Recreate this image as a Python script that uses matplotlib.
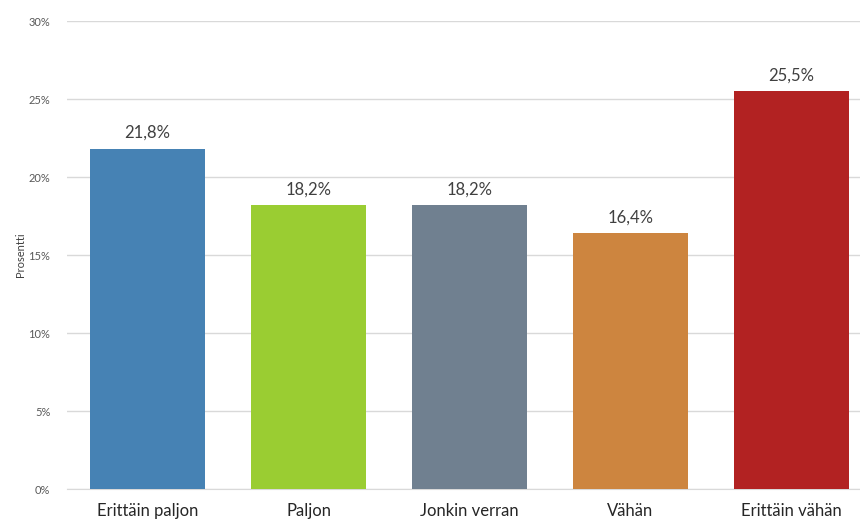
import matplotlib
matplotlib.use("Agg")
import matplotlib.pyplot as plt
from matplotlib.ticker import FuncFormatter

categories = ["Erittäin paljon", "Paljon", "Jonkin verran", "Vähän", "Erittäin vähän"]
values = [21.8, 18.2, 18.2, 16.4, 25.5]
colors = ["#4682B4", "#9ACD32", "#708090", "#CD853F", "#B22222"]
yticks = [0, 5, 10, 15, 20, 25, 30]

plt.rcParams['font.family'] = ['Lato', 'DejaVu Sans']

fig = plt.figure(figsize=(8.6, 5.23), dpi=100)
W, H = 860, 523
left, right = 67, 872
top, bottom = 21, 489
ax = fig.add_axes([left / W, (H - bottom) / H, (right - left) / W, (bottom - top) / H])

x = list(range(len(categories)))
ax.bar(x, values, width=0.72, color=colors, zorder=3)
for xi, v in zip(x, values):
    ax.text(xi, v + 0.5, f"{v:.1f}%".replace(".", ","), ha="center", va="bottom",
            fontsize=12, color="#404040")

ax.set_xlim(-0.5, len(categories) - 0.5)
ax.set_ylim(0, 30)
ax.set_yticks(yticks)
ax.yaxis.set_major_formatter(FuncFormatter(lambda v, p: f"{int(v)}%"))
ax.set_xticks(x)
ax.set_xticklabels(categories, fontsize=12, color="#262626")
ax.tick_params(axis="y", length=0, labelsize=8, labelcolor="#595959", pad=12)
ax.tick_params(axis="x", length=0, pad=10)
ax.grid(axis="y", color="#d9d9d9", linewidth=1, zorder=0)
for s in ["top", "right", "left"]:
    ax.spines[s].set_visible(False)
ax.spines["bottom"].set_color("#d9d9d9")
ax.set_ylabel("Prosentti", fontsize=8, color="#404040", labelpad=2)

fig.savefig("out.png", dpi=100)
